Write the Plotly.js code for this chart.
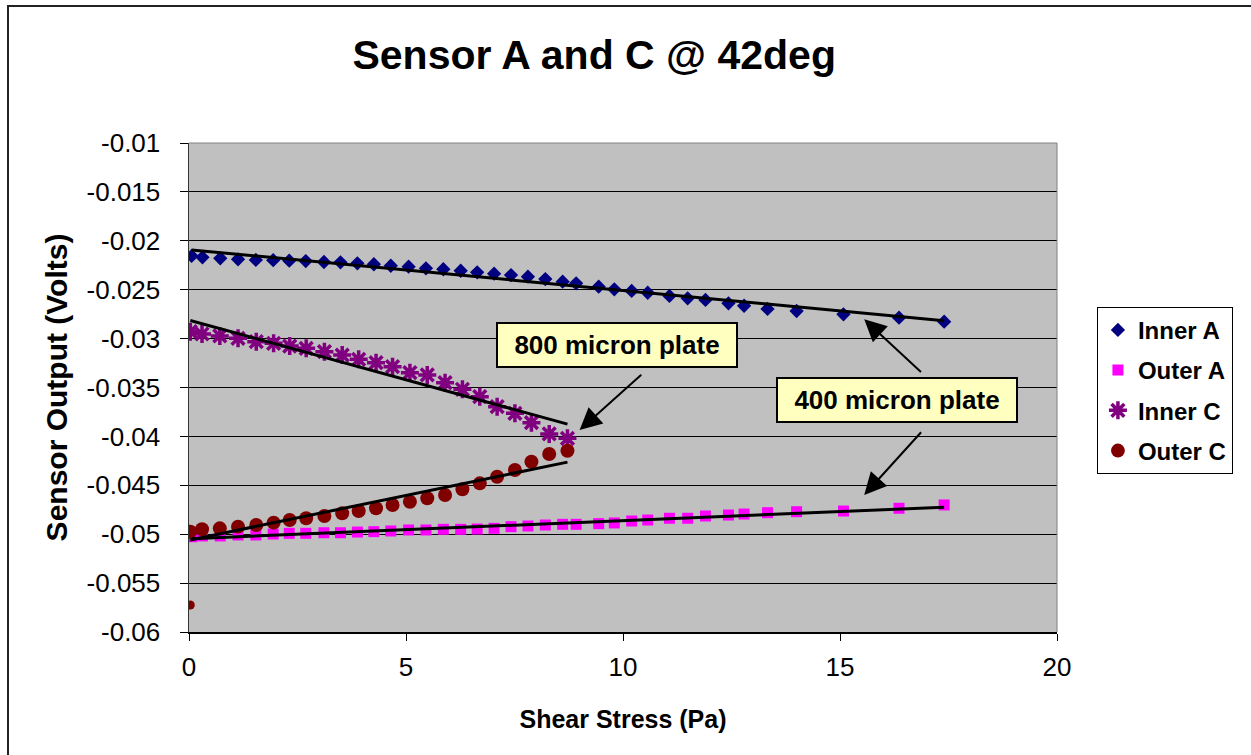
<!DOCTYPE html>
<html>
<head>
<meta charset="utf-8">
<script src="https://cdn.plot.ly/plotly-3.0.1.min.js"></script>
<style>
  html, body { margin: 0; padding: 0; background: #fff; }
  #chart { width: 1251px; height: 755px; }
  #frame { position: absolute; left: 7px; top: 5px; width: 1400px; height: 900px;
           border-left: 2px solid #222; border-top: 2px solid #222; pointer-events: none; }
</style>
</head>
<body>
<div id="chart"></div>
<div id="frame"></div>
<script>
// ---- data ----
const xA = [0.06, 0.31, 0.72, 1.13, 1.54, 1.94, 2.31, 2.69, 3.11, 3.49, 3.88, 4.26, 4.65, 5.06, 5.46, 5.86, 6.26, 6.64, 7.03, 7.42, 7.81, 8.21, 8.61, 8.92,
            9.44, 9.8, 10.2, 10.57, 11.07, 11.49, 11.9, 12.43, 12.79, 13.33, 14.0, 15.08, 16.36, 17.4];
const innerA = [-0.02155, -0.02169, -0.02179, -0.02189, -0.02196, -0.02198, -0.02203, -0.02207, -0.02217, -0.0222, -0.0223, -0.0224, -0.02255, -0.02265, -0.02281, -0.02291, -0.02306, -0.02322, -0.02336, -0.0235, -0.02367, -0.02391, -0.02418, -0.02435,
                -0.02469, -0.02496, -0.02513, -0.02531, -0.02564, -0.02588, -0.02605, -0.02639, -0.02664, -0.02697, -0.02718, -0.02752, -0.02786, -0.02827];
const outerA = [-0.05026, -0.05018, -0.05018, -0.05008, -0.05008, -0.04998, -0.04991, -0.04991, -0.04985, -0.04985, -0.04978, -0.04974, -0.04967, -0.04957, -0.04957, -0.0495, -0.0495, -0.04947, -0.0494, -0.04923, -0.04916, -0.04906, -0.04899, -0.04899,
                -0.04892, -0.04885, -0.04865, -0.04855, -0.04837, -0.04837, -0.04814, -0.04804, -0.04794, -0.0478, -0.0477, -0.04763, -0.04735, -0.04701];

const xInnerC = [0.03, 0.3, 0.71, 1.13, 1.55, 1.95, 2.32, 2.7, 3.12, 3.53, 3.91, 4.31, 4.69, 5.09, 5.49, 5.9, 6.3, 6.7, 7.1, 7.51, 7.89, 8.3, 8.72];
const innerC = [-0.02929, -0.02953, -0.02973, -0.02997, -0.03032, -0.03048, -0.03076, -0.03099, -0.03134, -0.03168, -0.03212, -0.03246, -0.03287, -0.03349, -0.03372, -0.03451, -0.03518, -0.03594, -0.03696, -0.03764, -0.0386, -0.03975, -0.0402];

// first Outer C point is the low outlier at x≈0 (not part of the fitted trend)
const xOuterC = [0.03, 0.03, 0.3, 0.71, 1.13, 1.55, 1.95, 2.32, 2.7, 3.12, 3.53, 3.91, 4.31, 4.69, 5.09, 5.49, 5.9, 6.3, 6.7, 7.1, 7.51, 7.89, 8.3, 8.72];
const outerC = [-0.05724, -0.04974, -0.0495, -0.0494, -0.04923, -0.04906, -0.04882, -0.04855, -0.04837, -0.04814, -0.04786, -0.04763, -0.04735, -0.04701, -0.04668, -0.04633, -0.04599, -0.04541, -0.0448, -0.04412, -0.04344, -0.04259, -0.0418, -0.04146];

const seriesNames = ['Inner A', 'Outer A', 'Inner C', 'Outer C'];
const xTickVals = [0, 5, 10, 15, 20];
const yTickVals = [-0.01, -0.015, -0.02, -0.025, -0.03, -0.035, -0.04, -0.045, -0.05, -0.055, -0.06];
const yTickText = ['-0.01', '-0.015', '-0.02', '-0.025', '-0.03', '-0.035', '-0.04', '-0.045', '-0.05', '-0.055', '-0.06'];
const titleText = 'Sensor A and C @ 42deg';
const xTitle = 'Shear Stress (Pa)';
const yTitle = 'Sensor Output (Volts)';
const label800 = '800 micron plate';
const label400 = '400 micron plate';
// annotation anchors in data units
const box800 = [9.862, -0.0307];
const arrow800 = {head: [9.0, -0.03935], tail: [10.456, -0.03355]};
const box400 = [16.318, -0.03631];
const arrow400up = {head: [15.558, -0.02803], tail: [16.9, -0.03355]};
const arrow400down = {head: [15.558, -0.04599], tail: [16.9, -0.03942]};

// ---- linear least-squares trendlines ----
function trend(xs, ys) {
  const n = xs.length;
  let sx = 0, sy = 0, sxx = 0, sxy = 0;
  for (let i = 0; i < n; i++) { sx += xs[i]; sy += ys[i]; sxx += xs[i]*xs[i]; sxy += xs[i]*ys[i]; }
  const m = (n*sxy - sx*sy) / (n*sxx - sx*sx);
  const b = (sy - m*sx) / n;
  const x0 = Math.min(...xs), x1 = Math.max(...xs);
  return {x: [x0, x1], y: [m*x0 + b, m*x1 + b]};
}

const FONT = 'Liberation Sans, Arial, sans-serif';
const colors = ['#000080', '#FF00FF', '#800080', '#800000'];

const traces = [
  {x: xA, y: innerA, name: seriesNames[0], mode: 'markers', type: 'scatter', legendgroup: 'g1',
   marker: {symbol: 'diamond', size: 11, color: colors[0], opacity: 1}},
  {x: xA, y: outerA, name: seriesNames[1], mode: 'markers', type: 'scatter', legendgroup: 'g2',
   marker: {symbol: 'square', size: 11, color: colors[1], opacity: 1}},
  {x: xInnerC, y: innerC, name: seriesNames[2], mode: 'markers', type: 'scatter', legendgroup: 'g3',
   marker: {symbol: 'asterisk-open', size: 15, color: colors[2], opacity: 1, line: {color: colors[2], width: 3.5}}},
  {x: xOuterC, y: outerC, name: seriesNames[3], mode: 'markers', type: 'scatter', legendgroup: 'g4',
   marker: {symbol: 'circle', size: xOuterC.map((_, i) => i === 0 ? 9 : 14), color: colors[3], opacity: 1,
            line: {width: 0}}},
];
[[xA, innerA], [xA, outerA], [xInnerC, innerC], [xOuterC.slice(1), outerC.slice(1)]].forEach(([xs, ys]) => {
  const t = trend(xs, ys);
  traces.push({x: t.x, y: t.y, mode: 'lines', type: 'scatter', showlegend: false, hoverinfo: 'skip',
               line: {color: '#000', width: 3}});
});

function arrowAnn(a) {
  return {x: a.head[0], y: a.head[1], ax: a.tail[0], ay: a.tail[1], xref: 'x', yref: 'y', axref: 'x', ayref: 'y',
          text: '', showarrow: true, arrowhead: 2, arrowsize: 2.2, arrowwidth: 2, arrowcolor: '#000',
          standoff: 0, startstandoff: 0};
}
function boxAnn(p, txt) {
  return {x: p[0], y: p[1], xref: 'x', yref: 'y', text: txt, showarrow: false,
          bgcolor: '#FFFFC0', bordercolor: '#000', borderwidth: 2, borderpad: 1, width: 236, height: 40,
          font: {family: FONT, size: 26, color: '#000', weight: 'bold'}};
}

const layout = {
  width: 1251, height: 755,
  margin: {l: 189, r: 194, t: 143, b: 123},
  paper_bgcolor: '#fff', plot_bgcolor: '#C0C0C0',
  font: {family: FONT, color: '#000'},
  title: {text: titleText, x: 0.475, xref: 'container', xanchor: 'center', y: 0.927, yref: 'container', yanchor: 'middle',
          font: {family: FONT, size: 41, color: '#000', weight: 'bold'}},
  xaxis: {range: [0, 20], tickvals: xTickVals, showgrid: false, zeroline: false,
          showline: true, linecolor: '#000', linewidth: 1.5, ticks: 'outside', ticklen: 7, tickcolor: '#000', tickwidth: 1,
          ticklabelstandoff: 4,
          tickfont: {family: FONT, size: 26, color: '#000'},
          title: {text: xTitle, standoff: 30, font: {family: FONT, size: 25, color: '#000', weight: 'bold'}}},
  yaxis: {range: [-0.06, -0.01], tickvals: yTickVals, ticktext: yTickText, showgrid: true, gridcolor: '#000', gridwidth: 1,
          zeroline: false, showline: true, linecolor: '#333', linewidth: 1.5, ticks: 'outside', ticklen: 8, tickcolor: '#000',
          ticklabelstandoff: 14,
          tickfont: {family: FONT, size: 26, color: '#000'},
          title: {text: yTitle, standoff: 10, font: {family: FONT, size: 30, color: '#000', weight: 'bold'}}},
  legend: {x: 1.046, y: 0.665, xanchor: 'left', yanchor: 'top', bgcolor: '#fff', bordercolor: '#000', borderwidth: 1,
           traceorder: 'grouped', tracegroupgap: 6,
           font: {family: FONT, size: 24, color: '#000', weight: 'bold'}},
  shapes: [
    {type: 'line', xref: 'paper', yref: 'paper', x0: 0, x1: 1, y0: 1, y1: 1, line: {color: '#808080', width: 1}},
    {type: 'line', xref: 'paper', yref: 'paper', x0: 1, x1: 1, y0: 0, y1: 1, line: {color: '#808080', width: 1}}
  ],
  annotations: [
    boxAnn(box800, label800), arrowAnn(arrow800),
    boxAnn(box400, label400), arrowAnn(arrow400up), arrowAnn(arrow400down)
  ],
  showlegend: true
};

Plotly.newPlot('chart', traces, layout, {displayModeBar: false, staticPlot: true});
</script>
</body>
</html>
